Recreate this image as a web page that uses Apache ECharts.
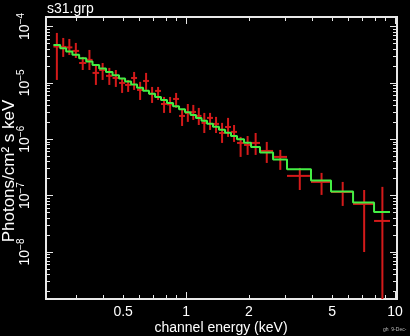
<!DOCTYPE html>
<html><head><meta charset="utf-8">
<script src="https://cdn.jsdelivr.net/npm/echarts@6/dist/echarts.min.js"></script>
<style>html,body{margin:0;padding:0;background:#000;}#c{width:410px;height:336px;}</style>
</head><body><div id="c"></div>
<script>
// Energy bin edges (keV)
const binEdges = [0.232, 0.250, 0.267, 0.286, 0.308, 0.333, 0.357, 0.384, 0.414, 0.445,
  0.478, 0.511, 0.546, 0.583, 0.623, 0.665, 0.711, 0.759, 0.811, 0.867,
  0.926, 0.989, 1.051, 1.116, 1.186, 1.260, 1.346, 1.438, 1.537, 1.641,
  1.754, 1.895, 2.047, 2.259, 2.609, 3.042, 3.962, 4.939, 6.298, 7.937, 9.464];
// Data (Photons/cm^2 s keV)
const flux = [4.40e-5, 4.33e-5, 4.25e-5, 3.68e-5, 2.25e-5, 2.55e-5, 1.50e-5, 1.69e-5, 1.33e-5, 1.22e-5,
  9.96e-6, 9.18e-6, 1.22e-5, 7.48e-6, 1.08e-5, 6.36e-6, 7.19e-6, 4.22e-6, 4.15e-6, 5.18e-6,
  2.59e-6, 2.93e-6, 3.05e-6, 2.59e-6, 1.95e-6, 2.39e-6, 1.87e-6, 1.29e-6, 1.65e-6, 1.35e-6,
  8.60e-7, 7.92e-7, 8.60e-7, 6.20e-7, 4.86e-7, 2.24e-7, 1.75e-7, 1.16e-7, 7.12e-8, 3.56e-8];
const fluxLo = [1.125e-5, 2.88e-5, 3.12e-5, 2.76e-5, 1.69e-5, 1.69e-5, 9.18e-6, 1.125e-5, 9.18e-6, 8.46e-6,
  6.62e-6, 6.90e-6, 7.48e-6, 4.97e-6, 7.48e-6, 4.40e-6, 4.97e-6, 2.93e-6, 2.93e-6, 3.59e-6,
  1.72e-6, 2.03e-6, 2.20e-6, 1.79e-6, 1.29e-6, 1.46e-6, 1.29e-6, 8.60e-7, 1.10e-6, 8.96e-7,
  4.86e-7, 5.27e-7, 5.27e-7, 3.80e-7, 2.86e-7, 1.26e-7, 1.03e-7, 6.57e-8, 1.00e-8, 1e-10];
const fluxHi = [7.67e-5, 6.25e-5, 6.00e-5, 5.10e-5, 2.88e-5, 3.83e-5, 2.08e-5, 2.25e-5, 1.84e-5, 1.69e-5,
  1.22e-5, 1.125e-5, 1.56e-5, 1.04e-5, 1.50e-5, 8.46e-6, 8.46e-6, 5.62e-6, 5.62e-6, 6.62e-6,
  3.31e-6, 4.22e-6, 4.06e-6, 3.59e-6, 2.93e-6, 2.93e-6, 2.49e-6, 1.95e-6, 2.39e-6, 1.79e-6,
  1.10e-6, 1.14e-6, 1.29e-6, 8.96e-7, 6.46e-7, 3.10e-7, 2.53e-7, 1.75e-7, 1.26e-7, 1.43e-7];
// Model (step)
const model = [4.70e-5, 4.12e-5, 3.61e-5, 3.15e-5, 2.74e-5, 2.38e-5, 2.07e-5, 1.80e-5, 1.563e-5, 1.364e-5,
  1.197e-5, 1.055e-5, 9.30e-6, 8.20e-6, 7.24e-6, 6.38e-6, 5.63e-6, 4.96e-6, 4.38e-6, 3.86e-6,
  3.40e-6, 3.02e-6, 2.69e-6, 2.39e-6, 2.13e-6, 1.89e-6, 1.67e-6, 1.47e-6, 1.30e-6, 1.14e-6,
  9.98e-7, 8.62e-7, 7.29e-7, 5.79e-7, 4.36e-7, 2.93e-7, 1.85e-7, 1.19e-7, 7.58e-8, 5.14e-8];
// Axis ranges and ticks
const xRange = [0.2138, 10.22];
const yRange = [1.47e-9, 1.47e-4];
const xTickValues = [0.5, 1, 2, 5, 10];
const xTickLabels = ['0.5', '1', '2', '5', '10'];
const xMajorTicks = [1, 10];
const xMinorTicks = [0.3, 0.4, 0.5, 0.6, 0.7, 0.8, 0.9, 2, 3, 4, 5, 6, 7, 8, 9];
const yTickValues = [1e-8, 1e-7, 1e-6, 1e-5, 1e-4];
const yTickExps = ['−8', '−7', '−6', '−5', '−4'];
const yDecades = [-9, -8, -7, -6, -5, -4];
const minorMult = [2, 3, 4, 5, 6, 7, 8, 9];

const L = Math.log10;
const yMinor = [];
yDecades.forEach(d => minorMult.forEach(m => yMinor.push(L(m * Math.pow(10, d)))));
const yMajor = yDecades.map(d => d);

const FONT = '"Liberation Sans", Arial, Helvetica, sans-serif';
const AX = '#e8e8e8';

function mkX(pos, major, labels) {
  return {
    type: 'value', position: pos, min: L(xRange[0]), max: L(xRange[1]),
    axisLine: { show: true, onZero: false, lineStyle: { color: AX, width: 2 } },
    axisTick: { show: true, inside: true, length: major ? 7 : 4,
      customValues: (major ? xMajorTicks : xMinorTicks).map(L),
      lineStyle: { color: AX, width: 1 } },
    axisLabel: labels ? {
      show: true, customValues: xTickValues.map(L), margin: 6,
      color: '#fff', fontSize: 14, fontFamily: FONT,
      formatter: v => { let best = 0; xTickValues.forEach((t, i) => { if (Math.abs(L(t) - v) < Math.abs(L(xTickValues[best]) - v)) best = i; }); return xTickLabels[best]; }
    } : { show: false },
    splitLine: { show: false }
  };
}
function mkY(pos, major, labels) {
  return {
    type: 'value', position: pos, min: L(yRange[0]), max: L(yRange[1]),
    axisLine: { show: true, onZero: false, lineStyle: { color: AX, width: 2 } },
    axisTick: { show: true, inside: true, length: major ? 7 : 4,
      customValues: major ? yMajor : yMinor,
      lineStyle: { color: AX, width: 1 } },
    axisLabel: labels ? {
      show: true, customValues: yTickValues.map(L), margin: 14, rotate: 90,
      color: '#fff', fontFamily: FONT, fontSize: 14,
      formatter: v => { const i = Math.round(v) + 8; return '{b|10}{s|' + yTickExps[i] + '}'; },
      rich: { b: { fontSize: 14, color: '#fff', fontFamily: FONT, verticalAlign: 'bottom', lineHeight: 16 },
              s: { fontSize: 10, color: '#fff', fontFamily: FONT, verticalAlign: 'top', lineHeight: 16 } }
    } : { show: false },
    splitLine: { show: false }
  };
}

const crossData = flux.map((f, i) => {
  const lo = binEdges[i], hi = binEdges[i + 1];
  return [L(lo), L(hi), L((lo + hi) / 2), L(f), L(fluxLo[i]), L(fluxHi[i])];
});
const stepData = [];
model.forEach((m, i) => { stepData.push([L(binEdges[i]), L(m)]); stepData.push([L(binEdges[i + 1]), L(m)]); });

const chart = echarts.init(document.getElementById('c'), null, { renderer: 'canvas' });
chart.setOption({
  backgroundColor: '#000',
  animation: false,
  grid: { left: 46, right: 13, top: 17, bottom: 37, containLabel: false, outerBoundsMode: 'none' },
  xAxis: [mkX('bottom', false, true), mkX('bottom', true, false), mkX('top', false, false), mkX('top', true, false)],
  yAxis: [mkY('left', false, true), mkY('left', true, false), mkY('right', false, false), mkY('right', true, false)],
  series: [
    {
      type: 'custom', xAxisIndex: 0, yAxisIndex: 0, clip: true, z: 2,
      data: crossData,
      renderItem: (params, api) => {
        const a = api.coord([api.value(0), api.value(3)]);
        const b = api.coord([api.value(1), api.value(3)]);
        const c = api.coord([api.value(2), api.value(4)]);
        const d = api.coord([api.value(2), api.value(5)]);
        const st = { stroke: '#d41a1a', lineWidth: 2 };
        return { type: 'group', children: [
          { type: 'line', shape: { x1: a[0], y1: a[1], x2: b[0], y2: b[1] }, style: st },
          { type: 'line', shape: { x1: c[0], y1: c[1], x2: d[0], y2: d[1] }, style: st }
        ] };
      }
    },
    {
      type: 'line', xAxisIndex: 0, yAxisIndex: 0, z: 3, data: stepData,
      showSymbol: false, symbol: 'none', lineStyle: { color: '#44ee44', width: 2 }, silent: true
    }
  ],
  graphic: [
    { type: 'text', x: 47, y: 9, style: { text: 's31.grp', fill: '#fff', fontSize: 14, fontFamily: FONT, textVerticalAlign: 'middle' } },
    { type: 'text', x: 9, y: 171, rotation: Math.PI / 2, style: { text: 'Photons/cm² s keV', fill: '#fff', fontSize: 17, fontFamily: FONT, textAlign: 'center', textVerticalAlign: 'middle' } },
    { type: 'text', x: 221, y: 328, style: { text: 'channel energy (keV)', fill: '#fff', fontSize: 14, fontFamily: FONT, textAlign: 'center', textVerticalAlign: 'middle' } },
    { type: 'text', x: 383, y: 330, style: { text: 'gh  9-Dec-', fill: '#bbb', fontSize: 5, fontFamily: FONT, textVerticalAlign: 'middle' } }
  ]
});
</script></body></html>
